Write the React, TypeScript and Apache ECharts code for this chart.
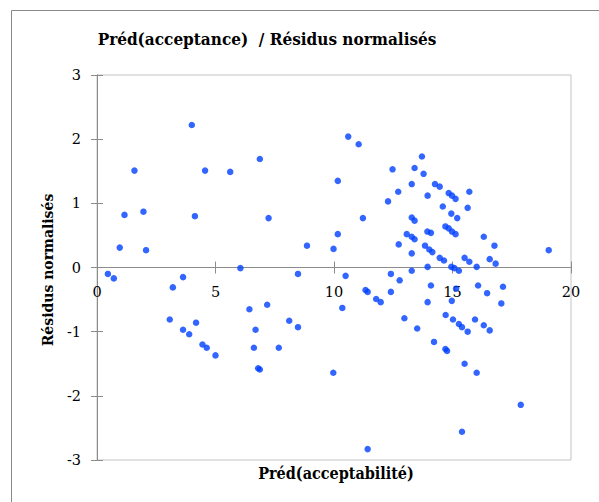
import React, { useEffect, useRef } from "react";
import * as echarts from "echarts";

const chartTitle = "Préd(acceptance)  / Résidus normalisés";
const xAxisTitle = "Préd(acceptabilité)";
const yAxisTitle = "Résidus normalisés";

const xTicks = [0, 5, 10, 15, 20];
const yTicks = [-3, -2, -1, 0, 1, 2, 3];

const predValues = [
  0.46, 0.71, 0.96, 1.16, 1.58, 1.96, 2.07, 3.63, 4.0, 4.13,
  4.56, 5.62, 6.05, 6.87, 7.24, 8.48, 8.86, 3.2, 3.07, 3.63,
  3.89, 4.18, 4.45, 4.63, 5.0, 6.43, 6.69, 6.62, 6.8, 6.87,
  7.18, 7.67, 8.11, 8.48, 10.6, 11.04, 10.16, 11.22, 10.16, 9.98,
  10.49, 12.47, 12.28, 12.71, 12.73, 12.4, 12.77, 13.71, 13.4, 13.78,
  13.28, 14.26, 14.46, 13.95, 14.84, 14.98, 15.13, 15.71, 14.59, 15.64,
  14.95, 15.2, 13.28, 13.4, 14.7, 14.84, 14.98, 15.13, 13.94, 14.09,
  13.07, 13.28, 13.4, 13.84, 14.02, 14.15, 13.28, 16.32, 16.77, 16.57,
  16.82, 19.06, 14.46, 14.64, 15.51, 15.71, 16.02, 13.95, 13.28, 14.95,
  15.08, 15.27, 10.35, 9.97, 11.33, 11.42, 11.78, 11.97, 12.4, 12.97,
  13.51, 14.09, 13.95, 14.22, 14.71, 15.02, 15.27, 15.4, 15.64, 14.7,
  14.77, 14.97, 15.15, 16.08, 16.46, 17.13, 17.06, 15.95, 16.32, 16.57,
  15.51, 16.02, 17.88, 15.4, 11.42,
];

const residValues = [
  -0.1, -0.17, 0.31, 0.82, 1.51, 0.87, 0.27, -0.15, 2.22, 0.8,
  1.51, 1.49, -0.01, 1.69, 0.77, -0.1, 0.34, -0.31, -0.81, -0.97,
  -1.04, -0.86, -1.2, -1.25, -1.37, -0.65, -0.97, -1.25, -1.57, -1.59,
  -0.58, -1.25, -0.83, -0.93, 2.04, 1.92, 1.35, 0.77, 0.52, 0.29,
  -0.13, 1.53, 1.03, 1.18, 0.36, -0.1, -0.2, 1.73, 1.55, 1.46,
  1.3, 1.3, 1.26, 1.12, 1.16, 1.12, 1.07, 1.18, 0.95, 0.93,
  0.84, 0.77, 0.78, 0.73, 0.64, 0.61, 0.56, 0.52, 0.56, 0.54,
  0.52, 0.48, 0.44, 0.34, 0.28, 0.24, 0.22, 0.48, 0.34, 0.13,
  0.06, 0.27, 0.15, 0.11, 0.15, 0.09, 0.01, 0.01, -0.05, 0.01,
  -0.01, -0.05, -0.63, -1.64, -0.35, -0.38, -0.49, -0.54, -0.38, -0.79,
  -0.95, -0.28, -0.54, -1.16, -0.74, -0.81, -0.88, -0.93, -1.0, -1.27,
  -1.3, -0.52, -0.33, -0.28, -0.4, -0.3, -0.56, -0.81, -0.9, -0.98,
  -1.5, -1.64, -2.14, -2.56, -2.83,
];

const FONT = "DejaVu Serif";
const FONT_COND = "DejaVu Serif Condensed";

export default function App() {
  const ref = useRef<HTMLDivElement>(null);

  useEffect(() => {
    document.body.style.margin = "0";
    if (!ref.current) return;
    const chart = echarts.init(ref.current, undefined, { renderer: "svg" });
    const points = predValues.map((x, i) => [x, residValues[i]]);
    const xMin = xTicks[0];
    const xMax = xTicks[xTicks.length - 1];
    const yMin = yTicks[0];
    const yMax = yTicks[yTicks.length - 1];

    const gridTop = 75;
    const gridBottom = 42;
    const plotH = 502 - gridTop - gridBottom;
    const zeroOffset = -plotH * (0 - yMin) / (yMax - yMin);

    const baseX = {
      type: "value",
      position: "bottom",
      offset: zeroOffset,
      min: xMin,
      max: xMax,
      interval: 5,
      axisLine: { show: true, onZero: false, lineStyle: { color: "#8c8c8c", width: 1 } },
      splitLine: { show: false },
    };
    const baseY = {
      type: "value",
      min: yMin,
      max: yMax,
      interval: 1,
      position: "left",
      axisLine: { show: true, onZero: false, lineStyle: { color: "#8c8c8c", width: 1 } },
      splitLine: { show: false },
    };

    chart.setOption({
      animation: false,
      backgroundColor: "#ffffff",
      grid: {
        left: 97,
        top: gridTop,
        right: 28,
        bottom: gridBottom,
        show: true,
        borderColor: "#c4c4c4",
        borderWidth: 1,
        backgroundColor: "transparent",
      },
      xAxis: [
        {
          ...baseX,
          axisTick: { show: true, inside: false, length: 6, lineStyle: { color: "#8c8c8c" } },
          axisLabel: {
            show: true,
            margin: 17,
            fontFamily: FONT,
            fontSize: 14.5,
            color: "#000",
            formatter: (v: number) => (xTicks.includes(v) ? String(v) : ""),
          },
        },
        {
          ...baseX,
          axisTick: { show: true, inside: true, length: 6, lineStyle: { color: "#8c8c8c" } },
          axisLabel: { show: false },
        },
      ],
      yAxis: [
        {
          ...baseY,
          axisTick: { show: true, inside: false, length: 6, lineStyle: { color: "#8c8c8c" } },
          axisLabel: {
            show: true,
            margin: 16,
            fontFamily: FONT,
            fontSize: 14.5,
            color: "#000",
            formatter: (v: number) => (yTicks.includes(v) ? String(v) : ""),
          },
        },
        {
          ...baseY,
          axisTick: { show: true, inside: true, length: 6, lineStyle: { color: "#8c8c8c" } },
          axisLabel: { show: false },
        },
      ],
      graphic: [
        {
          type: "rect",
          silent: true,
          shape: { x: 11.5, y: 10.5, width: 700, height: 600 },
          style: { fill: "none", stroke: "#8a8a8a", lineWidth: 1 },
          z: -10,
        },
        {
          type: "text",
          x: 267,
          y: 39,
          style: {
            text: chartTitle,
            fontFamily: FONT_COND,
            fontSize: 17,
            fontWeight: "bold",
            fill: "#000",
            textAlign: "center",
            textVerticalAlign: "middle",
          },
        },
        {
          type: "text",
          x: 336,
          y: 473,
          style: {
            text: xAxisTitle,
            fontFamily: FONT_COND,
            fontSize: 16,
            fontWeight: "bold",
            fill: "#000",
            textAlign: "center",
            textVerticalAlign: "middle",
          },
        },
        {
          type: "text",
          x: 48,
          y: 270,
          rotation: Math.PI / 2,
          style: {
            text: yAxisTitle,
            fontFamily: FONT,
            fontSize: 14,
            fontWeight: "bold",
            fill: "#000",
            textAlign: "center",
            textVerticalAlign: "middle",
          },
        },
      ],
      series: [
        {
          type: "scatter",
          xAxisIndex: 0,
          yAxisIndex: 0,
          data: points,
          symbol: "circle",
          symbolSize: 6.5,
          itemStyle: { color: "#0040ff" },
          silent: true,
        },
      ],
    });
    return () => chart.dispose();
  }, []);

  return <div ref={ref} style={{ width: 599, height: 502 }} />;
}
